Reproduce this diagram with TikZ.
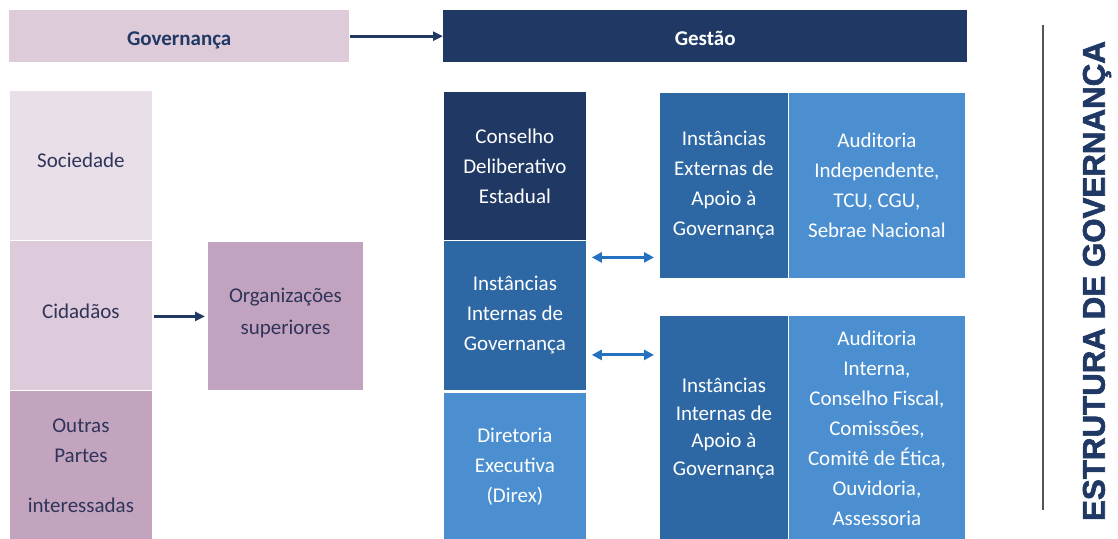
\documentclass[tikz,border=0pt]{standalone}
\usepackage{fontspec}
\setmainfont{Carlito}
\newfontfamily\vfont[BoldFeatures={FakeBold=2}]{Liberation Sans}
\usetikzlibrary{arrows.meta,calc}
\definecolor{navy}{HTML}{203864}
\definecolor{govbar}{HTML}{DDCBDA}
\definecolor{soc}{HTML}{E9DFE8}
\definecolor{cid}{HTML}{DDCADA}
\definecolor{outr}{HTML}{C3A4BF}
\definecolor{org}{HTML}{C2A3BF}
\definecolor{ltxt}{HTML}{2F3459}
\definecolor{midblue}{HTML}{2E68A4}
\definecolor{ltblue}{HTML}{4B8FD0}
\definecolor{arrblue}{HTML}{2471BF}
\definecolor{vline}{HTML}{555555}
\tikzset{
  box/.style={anchor=north west, inner sep=0pt, draw=white, line width=0.8pt, align=center,
    font={\fontsize{21}{30}\selectfont}},
  lbox/.style={box, text=ltxt},
  dbox/.style={box, text=white},
  bar/.style={anchor=north west, inner sep=0pt, text height=23pt, text depth=5pt, font={\fontsize{21}{30}\selectfont\bfseries}},
  navyarr/.style={draw=navy, line width=2.7pt, -{Triangle[length=10pt,width=9pt]}},
  darr/.style={draw=arrblue, line width=3pt, {Triangle[length=10pt,width=10pt]}-{Triangle[length=10pt,width=10pt]}},
}
\begin{document}
\begin{tikzpicture}[x=1pt,y=-1pt]
\useasboundingbox (0,0) rectangle (1118,538);
% top bars
\node[bar, fill=govbar, text=navy, minimum width=340pt, minimum height=52pt] (gov) at (9,10) {Governança};
\node[bar, fill=navy, text=white, minimum width=524pt, minimum height=52pt] (gest) at (443,10) {Gestão};
\draw[navyarr] ([xshift=1pt]gov.east) -- (gest.west);
% left column
\node[lbox, fill=soc, minimum width=143pt, minimum height=150pt] (soc) at (9,90) {Sociedade\\[-20pt]};
\node[lbox, fill=cid, minimum width=143pt, minimum height=150pt] (cid) at (9,240) {Cidadãos\\[-22pt]};
\node[lbox, fill=outr, minimum width=143pt, minimum height=150pt] (out) at (9,390) {Outras\\Partes\\[20pt]interessadas};
\node[lbox, fill=org, minimum width=156pt, minimum height=149pt] (org) at (207,241) {Organizações\\[2pt]superiores\\[-20pt]};
\draw[navyarr] ([xshift=1pt,yshift=-1pt]cid.east) -- ([xshift=-2pt,yshift=-1pt]cid.east -| org.west);
% middle column
\node[dbox, fill=navy, minimum width=143pt, minimum height=149pt] (cde) at (443,91) {Conselho\\Deliberativo\\Estadual};
\node[dbox, fill=midblue, minimum width=143pt, minimum height=150pt] (iig) at (443,240) {Instâncias\\Internas de\\Governança};
\node[dbox, fill=ltblue, minimum width=143pt, minimum height=148pt] (dir) at (443,392) {Diretoria\\Executiva\\(Direx)};
% right top
\node[dbox, fill=midblue, minimum width=129pt, minimum height=186pt] (iea) at (659,92) {Instâncias\\Externas de\\Apoio à\\Governança};
\node[dbox, fill=ltblue, minimum width=177pt, minimum height=186pt] (aie) at (788,92) {Auditoria\\Independente,\\TCU, CGU,\\Sebrae Nacional};
% right bottom
\node[dbox, fill=midblue, minimum width=129pt, minimum height=226pt, font={\fontsize{21}{27.5}\selectfont}] (iia) at (659,315) {Instâncias\\Internas de\\Apoio à\\Governança};
\node[dbox, fill=ltblue, minimum width=177pt, minimum height=226pt] (aii) at (788,315) {Auditoria\\Interna,\\Conselho Fiscal,\\Comissões,\\Comitê de Ética,\\Ouvidoria,\\Assessoria};
% double arrows
\draw[darr] ($(iig.east)+(5,-58)$) -- ($(iig.east -| iea.west)+(-5,-58)$);
\draw[darr] ($(iig.east)+(5,39.5)$) -- ($(iig.east -| iia.west)+(-5,39.5)$);
% side title
\draw[vline, line width=1.5pt] (1043,25) -- (1043,510);
\node[rotate=90, text=navy, inner sep=0pt, font={\vfont\bfseries\fontsize{31.3}{34}\selectfont}] (title) at (1097,281) {ESTRUTURA DE GOVERNANÇA};
\end{tikzpicture}
\end{document}
